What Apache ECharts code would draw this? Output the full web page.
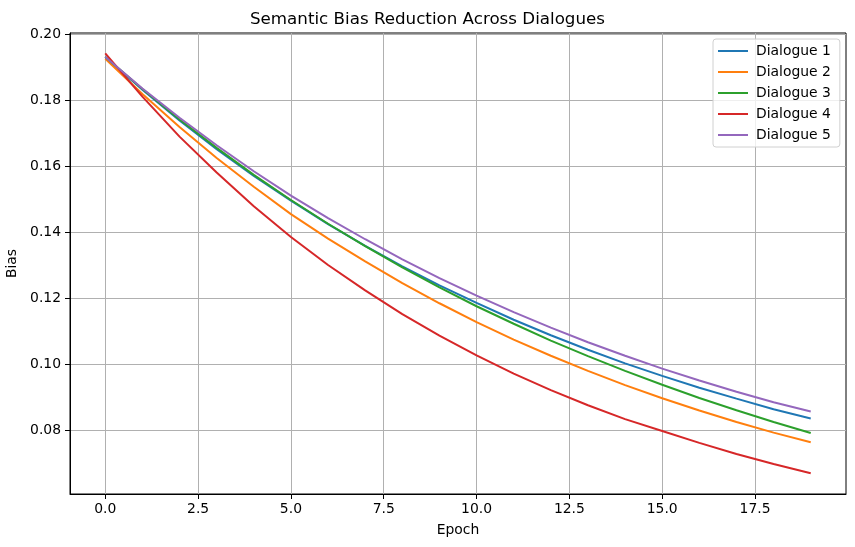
<!DOCTYPE html>
<html>
<head>
<meta charset="utf-8">
<script src="https://cdn.jsdelivr.net/npm/echarts@6/dist/echarts.min.js"></script>
<style>
  html, body { margin: 0; padding: 0; background: #fff; }
  #main { width: 855px; height: 547px; }
</style>
</head>
<body>
<div id="main"></div>
<script>
    var epochs = [0, 1, 2, 3, 4, 5, 6, 7, 8, 9, 10, 11, 12, 13, 14, 15, 16, 17, 18, 19];
    var dialogue1 = [0.1930, 0.1831, 0.1738, 0.1651, 0.1570, 0.1495, 0.1424, 0.1358, 0.1296, 0.1238,
        0.1185, 0.1134, 0.1087, 0.1043, 0.1002, 0.0964, 0.0928, 0.0895, 0.0863, 0.0835];
    var dialogue2 = [0.1925, 0.1818, 0.1718, 0.1624, 0.1537, 0.1454, 0.1380, 0.1311, 0.1245, 0.1184,
        0.1127, 0.1074, 0.1025, 0.0979, 0.0936, 0.0896, 0.0859, 0.0824, 0.0792, 0.0763];
    var dialogue3 = [0.1930, 0.1833, 0.1741, 0.1655, 0.1573, 0.1497, 0.1425, 0.1357, 0.1293, 0.1232,
        0.1175, 0.1122, 0.1071, 0.1024, 0.0979, 0.0937, 0.0897, 0.0860, 0.0824, 0.0791];
    var dialogue4 = [0.1941, 0.1810, 0.1689, 0.1580, 0.1478, 0.1385, 0.1300, 0.1223, 0.1151, 0.1086,
        0.1026, 0.0971, 0.0921, 0.0875, 0.0833, 0.0797, 0.0761, 0.0727, 0.0697, 0.0669];
    var dialogue5 = [0.1930, 0.1835, 0.1746, 0.1663, 0.1584, 0.1510, 0.1442, 0.1378, 0.1317, 0.1260,
        0.1207, 0.1157, 0.1110, 0.1066, 0.1025, 0.0986, 0.0950, 0.0916, 0.0884, 0.0856];
    var names = ['Dialogue 1', 'Dialogue 2', 'Dialogue 3', 'Dialogue 4', 'Dialogue 5'];
    var colors = ['#1f77b4', '#ff7f0e', '#2ca02c', '#d62728', '#9467bd'];
    var xTicks = [0, 2.5, 5, 7.5, 10, 12.5, 15, 17.5];
    var yTicks = [0.08, 0.10, 0.12, 0.14, 0.16, 0.18, 0.20];

    var font = 'DejaVu Sans';
    var allData = [dialogue1, dialogue2, dialogue3, dialogue4, dialogue5];

    var makeSeries = function(i) {
        var pts = [];
        for (var k = 0; k < epochs.length; k++) {
            pts.push([epochs[k], allData[i][k]]);
        }
        return {
            name: names[i],
            type: 'line',
            symbol: 'none',
            showSymbol: false,
            lineStyle: { width: 2, color: colors[i] },
            itemStyle: { color: colors[i] },
            data: pts
        };
    }

    var series = [];
    for (var i = 0; i < names.length; i++) {
        series.push(makeSeries(i));
    }

    var option = {
        animation: false,
        backgroundColor: '#fff',
        title: {
            text: 'Semantic Bias Reduction Across Dialogues',
            left: 'center',
            top: 6,
            textStyle: { fontFamily: font, fontSize: 16.7, fontWeight: 'normal', color: '#000' }
        },
        legend: {
            orient: 'vertical',
            left: 713,
            top: 39,
            icon: 'rect',
            itemWidth: 30,
            itemHeight: 2,
            itemGap: 7,
            padding: [5, 9, 5, 5],
            backgroundColor: 'rgba(255,255,255,0.8)',
            borderColor: '#d0d0d0',
            borderWidth: 1,
            borderRadius: 3,
            data: names,
            textStyle: { fontFamily: font, fontSize: 13.9, color: '#000', lineHeight: 14, padding: [0, 0, 0, 3] }
        },
        grid: {
            left: 70,
            right: 9,
            top: 33,
            bottom: 53,
            outerBoundsMode: 'none',
            containLabel: false,
            show: true,
            borderColor: '#000',
            borderWidth: 1,
            backgroundColor: 'transparent'
        },
        xAxis: {
            type: 'value',
            min: -0.95,
            max: 19.95,
            name: 'Epoch',
            nameLocation: 'middle',
            nameGap: 29,
            nameTextStyle: { fontFamily: font, fontSize: 13.9, color: '#000' },
            axisLine: { show: true, onZero: false, lineStyle: { color: '#000', width: 1 } },
            axisTick: { show: true, length: 5, customValues: xTicks, lineStyle: { color: '#000' } },
            axisLabel: {
                customValues: xTicks,
                margin: 8,
                fontFamily: font,
                fontSize: 13.9,
                color: '#000',
                formatter: function(v) { return v.toFixed(1); }
            },
            splitLine: { show: true, lineStyle: { color: '#b0b0b0', width: 1 } }
        },
        yAxis: {
            type: 'value',
            min: 0.0606,
            max: 0.2003,
            name: 'Bias',
            nameLocation: 'middle',
            nameGap: 43,
            nameTextStyle: { fontFamily: font, fontSize: 13.9, color: '#000' },
            axisLine: { show: true, onZero: false, lineStyle: { color: '#000', width: 1 } },
            axisTick: { show: true, length: 5, customValues: yTicks, lineStyle: { color: '#000' } },
            axisLabel: {
                customValues: yTicks,
                margin: 9,
                fontFamily: font,
                fontSize: 13.9,
                color: '#000',
                formatter: function(v) { return v.toFixed(2); }
            },
            splitLine: { show: true, lineStyle: { color: '#b0b0b0', width: 1 } }
        },
        series: series
    };

    var myChart = echarts.init(document.getElementById('main'), null, { renderer: 'canvas' });
    myChart.setOption(option);
</script>
</body>
</html>
